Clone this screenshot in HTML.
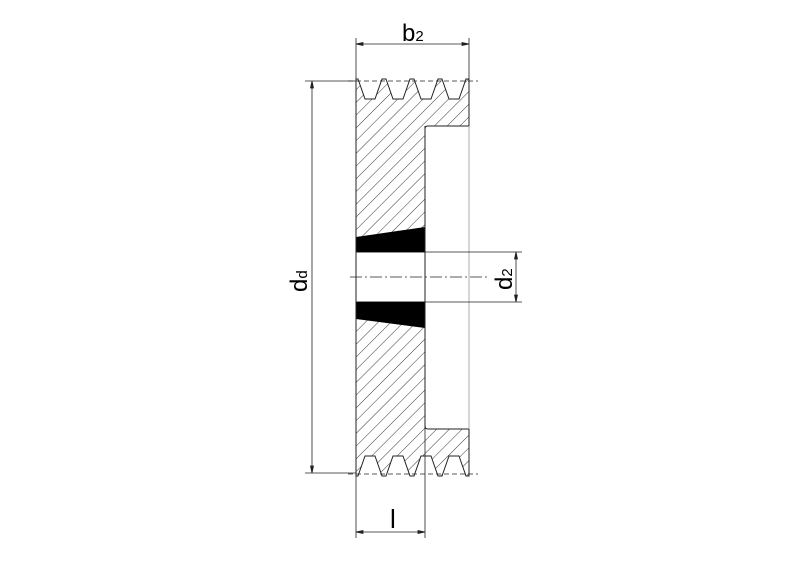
<!DOCTYPE html>
<html><head><style>body{margin:0;background:#fff}svg{display:block}</style></head><body>
<svg width="800" height="565" xmlns="http://www.w3.org/2000/svg">
<defs>
<pattern id="h" patternUnits="userSpaceOnUse" width="9" height="9" patternTransform="rotate(45)">
<line x1="0" y1="0" x2="0" y2="9" stroke="#222" stroke-width="0.9"/>
</pattern>
</defs>
<path id="b" d="M356,79 L358,79 L365,99 L375,99 L382,79 L386,79 L393,99 L403,99 L410,79 L414,79 L421,99 L431,99 L438,79 L442,79 L449,99 L459,99 L466,79 L469,79 L469,126 L428,126 Q425,126 425,129 L425,426 Q425,429 428,429 L469,429 L469,476 L466,476 L459,456 L449,456 L442,476 L438,476 L431,456 L421,456 L414,476 L410,476 L403,456 L393,456 L386,476 L382,476 L375,456 L365,456 L358,476 L356,476 Z" fill="url(#h)" stroke="#222" stroke-width="1"/>
<rect x="356.5" y="252" width="68" height="50" fill="#fff"/>
<line x1="356" y1="252" x2="425" y2="252" stroke="#222"/>
<line x1="356" y1="302" x2="425" y2="302" stroke="#222"/>
<polygon points="356,237 425,227 425,252 356,252" fill="#000"/>
<polygon points="356,302 425,302 425,328 356,319" fill="#000"/>
<line x1="469" y1="126" x2="469" y2="429" stroke="#999" stroke-width="0.8"/>
<line x1="425" y1="126" x2="425" y2="429" stroke="#222"/>
<line x1="356" y1="79" x2="356" y2="476" stroke="#222"/>
<!-- dashed pitch lines -->
<line x1="348" y1="81" x2="478" y2="81" stroke="#222" stroke-width="0.8" stroke-dasharray="5,3"/>
<line x1="348" y1="474" x2="478" y2="474" stroke="#222" stroke-width="0.8" stroke-dasharray="5,3"/>
<!-- centerline -->
<line x1="350" y1="277" x2="490" y2="277" stroke="#222" stroke-width="0.8" stroke-dasharray="12,3,2,3"/>
<!-- b2 -->
<g stroke="#222" stroke-width="0.8" fill="#222">
<line x1="356" y1="38" x2="356" y2="79"/><line x1="469" y1="38" x2="469" y2="79"/>
<line x1="356" y1="44" x2="469" y2="44"/>
<polygon points="356,44 363,42.5 363,45.5"/><polygon points="469,44 462,42.5 462,45.5"/>
<!-- dd -->
<line x1="305" y1="81" x2="356" y2="81"/><line x1="305" y1="473" x2="356" y2="473"/>
<line x1="312" y1="81" x2="312" y2="473"/>
<polygon points="312,81 310.5,88 313.5,88"/><polygon points="312,473 310.5,466 313.5,466"/>
<!-- d2 -->
<line x1="425" y1="252" x2="522" y2="252"/><line x1="425" y1="302" x2="522" y2="302"/>
<line x1="516" y1="252" x2="516" y2="302"/>
<polygon points="516,252 514.5,259 517.5,259"/><polygon points="516,302 514.5,295 517.5,295"/>
<!-- l -->
<line x1="356" y1="476" x2="356" y2="538"/><line x1="425" y1="429" x2="425" y2="538"/>
<line x1="356" y1="532" x2="425" y2="532"/>
<polygon points="356,532 363,530.5 363,533.5"/><polygon points="425,532 418,530.5 418,533.5"/>
</g>
<g font-family="Liberation Sans, sans-serif" fill="#000">
<text x="402" y="41" font-size="24">b<tspan font-size="15">2</tspan></text>
<text x="390" y="528" font-size="26">l</text>
<text transform="translate(307,292) rotate(-90)" font-size="24">d<tspan font-size="15">d</tspan></text>
<text transform="translate(512,290) rotate(-90)" font-size="24">d<tspan font-size="15">2</tspan></text>
</g>
</svg>
</body></html>
